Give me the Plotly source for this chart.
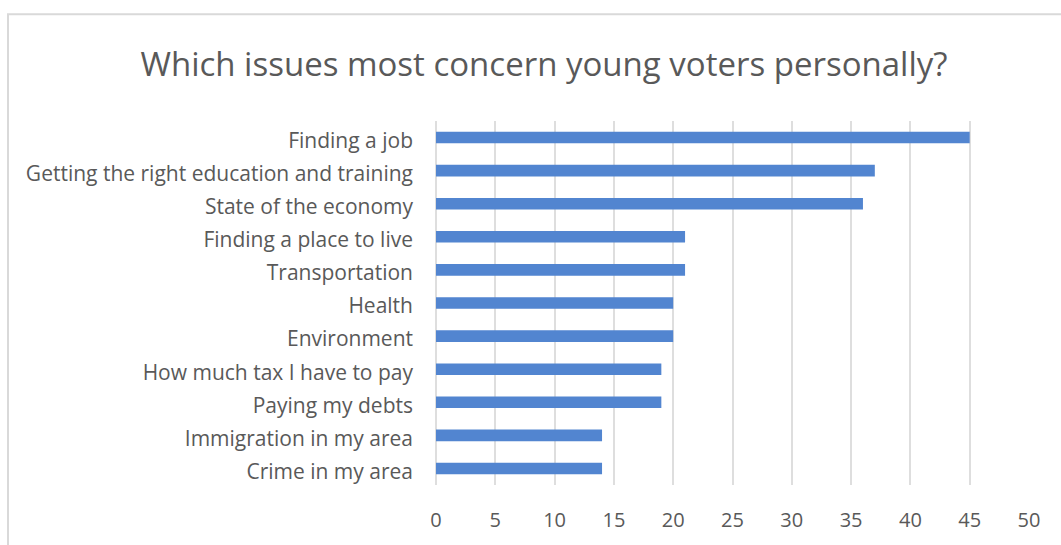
import plotly.graph_objects as go

# Survey issues (top to bottom) and the count of respondents naming each
issues = [
    "Finding a job",
    "Getting the right education and training",
    "State of the economy",
    "Finding a place to live",
    "Transportation",
    "Health",
    "Environment",
    "How much tax I have to pay",
    "Paying my debts",
    "Immigration in my area",
    "Crime in my area",
]
counts = [45, 37, 36, 21, 21, 20, 20, 19, 19, 14, 14]
x_ticks = [0, 5, 10, 15, 20, 25, 30, 35, 40, 45, 50]

TEXT = "#595959"
GRID = "#dedede"
BAR = "#5285d0"
FONT = "Open Sans"

W, H = 1061, 545
L, R, T, B = 436, 32, 121, 56
pw, ph = W - L - R, H - T - B

fig = go.Figure(
    go.Bar(
        x=counts,
        y=issues,
        orientation="h",
        width=0.35,
        marker=dict(color=BAR, line=dict(width=0)),
    )
)


def px_x(v):
    return (v - L) / pw


def px_y(v):
    return (H - B - v) / ph


fig.update_layout(
    width=W,
    height=H,
    margin=dict(l=L, r=R, t=T, b=B),
    paper_bgcolor="white",
    plot_bgcolor="white",
    showlegend=False,
    title=dict(
        text="Which issues most concern young voters personally?",
        xref="container",
        x=544 / W,
        xanchor="center",
        yref="container",
        y=1 - 64 / H,
        yanchor="middle",
        font=dict(family=FONT, size=33, color=TEXT),
    ),
    xaxis=dict(
        range=[0, 50],
        tickvals=x_ticks,
        showgrid=True,
        gridcolor=GRID,
        gridwidth=2,
        zeroline=True,
        zerolinecolor=GRID,
        zerolinewidth=2,
        showline=False,
        ticks="",
        ticklabelstandoff=21,
        tickfont=dict(family=FONT, size=20, color=TEXT),
        fixedrange=True,
    ),
    yaxis=dict(
        categoryorder="array",
        categoryarray=issues[::-1],
        showgrid=False,
        zeroline=False,
        showline=False,
        ticks="",
        ticklabelstandoff=22,
        ticklabelshift=3,
        tickfont=dict(family=FONT, size=21, color=TEXT),
        fixedrange=True,
    ),
    shapes=[
        # chart frame
        dict(
            type="rect",
            xref="paper",
            yref="paper",
            x0=px_x(8),
            x1=px_x(W + 20),
            y0=px_y(H + 20),
            y1=px_y(13),
            line=dict(color="#d9d9d9", width=2),
            fillcolor="rgba(0,0,0,0)",
            layer="below",
        )
    ],
)

fig.write_html("out.html")
